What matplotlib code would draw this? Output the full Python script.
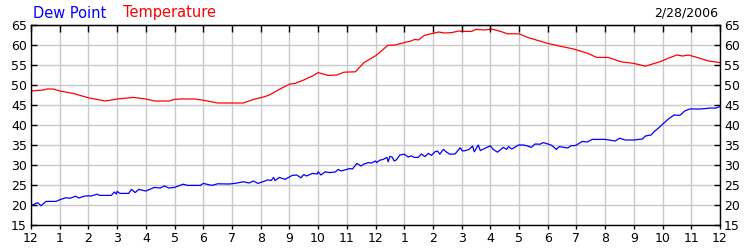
"""
Dew point and temperature over one day (2/28/2006)
"""
import matplotlib
matplotlib.use("Agg")
import matplotlib.pyplot as plt

# hours since midnight, values in deg F
temp_hours = [0.0, 0.43, 0.55, 0.78, 1.0, 1.47, 2.0, 2.4, 2.6, 3.0, 3.57, 4.0, 4.3, 4.8, 5.0,
              5.2, 5.7, 6.0, 6.5, 7.0, 7.4, 7.75, 8.1, 8.3, 8.7, 9.0, 9.2, 9.5, 9.8, 10.0,
              10.35, 10.65, 10.9, 11.3, 11.6, 12.0, 12.16, 12.42, 12.68, 13.0, 13.2, 13.37,
              13.5, 13.7, 14.0, 14.2, 14.4, 14.66, 14.9, 15.0, 15.35, 15.5, 15.8, 16.05,
              16.4, 16.6, 17.0, 17.3, 17.6, 18.0, 18.4, 18.9, 19.4, 19.7, 20.1, 20.55, 21.0,
              21.4, 21.9, 22.2, 22.5, 22.7, 22.9, 23.2, 23.6, 24.0]
temperature = [48.5, 48.75, 49.0, 49.0, 48.5, 47.9, 46.8, 46.25, 46.0, 46.5, 46.9, 46.5, 46.0,
               46.0, 46.4, 46.5, 46.5, 46.2, 45.5, 45.5, 45.5, 46.4, 47.0, 47.5, 49.1, 50.2,
               50.4, 51.25, 52.25, 53.1, 52.4, 52.5, 53.2, 53.3, 55.6, 57.3, 58.2, 59.9, 60.0,
               60.6, 60.9, 61.4, 61.25, 62.4, 62.9, 63.25, 63.0, 63.1, 63.5, 63.4, 63.4, 63.9,
               63.75, 64.0, 63.3, 62.8, 62.8, 61.9, 61.25, 60.4, 59.75, 59.0, 57.9, 56.9, 56.9,
               55.8, 55.4, 54.7, 55.8, 56.7, 57.5, 57.25, 57.5, 56.9, 56.0, 55.6]

dew_hours = [0.0, 0.23, 0.35, 0.52, 0.87, 1.0, 1.2, 1.37, 1.55, 1.67, 1.85, 2.0, 2.1, 2.3, 2.4,
             2.8, 2.9, 2.97, 3.0, 3.1, 3.4, 3.5, 3.63, 3.75, 4.0, 4.17, 4.3, 4.5, 4.65, 4.8,
             5.0, 5.3, 5.45, 5.9, 6.0, 6.3, 6.5, 6.9, 7.1, 7.4, 7.6, 7.75, 7.9, 8.15, 8.25,
             8.36, 8.45, 8.5, 8.65, 8.85, 9.1, 9.26, 9.4, 9.5, 9.6, 9.8, 9.97, 10.0, 10.1,
             10.25, 10.4, 10.6, 10.7, 10.8, 11.1, 11.2, 11.35, 11.5, 11.6, 11.75, 11.86, 12.0,
             12.04, 12.15, 12.27, 12.4, 12.44, 12.5, 12.58, 12.65, 12.73, 12.85, 13.0, 13.14,
             13.25, 13.35, 13.49, 13.6, 13.72, 13.84, 13.95, 14.07, 14.16, 14.24, 14.36, 14.48,
             14.59, 14.77, 14.95, 15.03, 15.14, 15.26, 15.38, 15.44, 15.58, 15.65, 15.82, 16.0,
             16.1, 16.25, 16.45, 16.57, 16.63, 16.75, 16.98, 17.15, 17.3, 17.42, 17.56, 17.73,
             17.85, 18.03, 18.14, 18.3, 18.4, 18.7, 18.8, 18.98, 19.2, 19.38, 19.55, 20.0,
             20.35, 20.5, 20.7, 21.0, 21.3, 21.4, 21.6, 21.7, 21.85, 22.0, 22.2, 22.4, 22.6,
             22.77, 22.94, 23.35, 23.6, 23.7, 23.84, 24.0]
dew_point = [19.8, 20.6, 19.8, 20.9, 20.9, 21.3, 21.8, 21.7, 22.2, 21.75, 22.2, 22.3, 22.25,
             22.7, 22.4, 22.4, 23.25, 22.75, 23.4, 22.9, 22.9, 23.9, 23.1, 23.9, 23.5, 24.0,
             24.4, 24.25, 24.75, 24.25, 24.4, 25.2, 24.9, 24.9, 25.4, 24.9, 25.3, 25.25, 25.4,
             25.8, 25.5, 26.0, 25.4, 26.0, 26.3, 26.1, 26.9, 26.1, 26.9, 26.4, 27.4, 27.5, 26.8,
             27.6, 27.25, 27.9, 27.75, 28.3, 27.5, 28.3, 28.1, 28.25, 28.9, 28.5, 29.1, 29.0,
             30.4, 29.75, 30.25, 30.6, 30.5, 31.0, 30.6, 31.2, 31.4, 31.9, 30.8, 32.1, 32.0,
             31.0, 31.3, 32.5, 32.7, 32.0, 32.3, 31.9, 31.9, 32.75, 32.1, 32.9, 32.4, 33.3,
             33.5, 32.7, 33.9, 33.2, 32.7, 32.75, 34.3, 33.5, 33.6, 33.9, 34.75, 33.3, 35.0,
             33.6, 34.2, 34.8, 33.9, 33.2, 34.4, 33.9, 34.6, 34.0, 35.0, 35.0, 34.75, 34.4,
             35.25, 35.2, 35.6, 35.2, 34.9, 33.9, 34.6, 34.25, 34.8, 34.9, 35.9, 35.75, 36.4,
             36.4, 36.0, 36.7, 36.25, 36.25, 36.5, 37.25, 37.5, 38.3, 39.2, 40.2, 41.5, 42.5,
             42.4, 43.5, 44.0, 44.0, 44.2, 44.25, 44.2, 44.6]

hour_ticks = list(range(25))
hour_labels = ["12"] + [str(h) for h in range(1, 12)] + ["12"] + [str(h) for h in range(1, 12)] + ["12"]
y_ticks = list(range(15, 70, 5))

plt.rcParams["font.family"] = ["DejaVu Sans"]

fig = plt.figure(figsize=(7.5, 2.5), dpi=100)
ax = fig.add_axes([31 / 750, 25 / 250, 689 / 750, 200 / 250])

ax.plot(temp_hours, temperature, color="#ff0000", lw=0.9)
ax.plot(dew_hours, dew_point, color="#0000ff", lw=0.9)

ax.set_xlim(0, 24)
ax.set_ylim(15, 65)
ax.set_xticks(hour_ticks)
ax.set_xticklabels(hour_labels)
ax.set_yticks(y_ticks)
ax.grid(True, color="#c8c8c8", lw=1.0)
ax.set_axisbelow(True)

for side in ax.spines.values():
    side.set_linewidth(1.0)
    side.set_color("black")

ax.tick_params(axis="x", direction="out", length=3, width=1, labelsize=9, pad=2)
ax.tick_params(axis="y", direction="in", length=4, width=1, labelsize=9, pad=3,
               left=True, right=True, labelleft=True, labelright=True)

# top ticks point into the plot, drawn above the grid
top = ax.secondary_xaxis("top")
top.set_xticks(hour_ticks)
top.tick_params(direction="in", length=5, width=1, color="black", labeltop=False)
top.set_zorder(3)

fig.text(33 / 750, 1 - 13 / 250, "Dew Point", color="#0000ff", fontsize=10.5, va="center")
fig.text(123 / 750, 1 - 13 / 250, "Temperature", color="#ff0000", fontsize=10.5, va="center")
fig.text(718 / 750, 1 - 13 / 250, "2/28/2006", color="black", fontsize=9, va="center", ha="right")

plt.savefig("out.png", dpi=100)
